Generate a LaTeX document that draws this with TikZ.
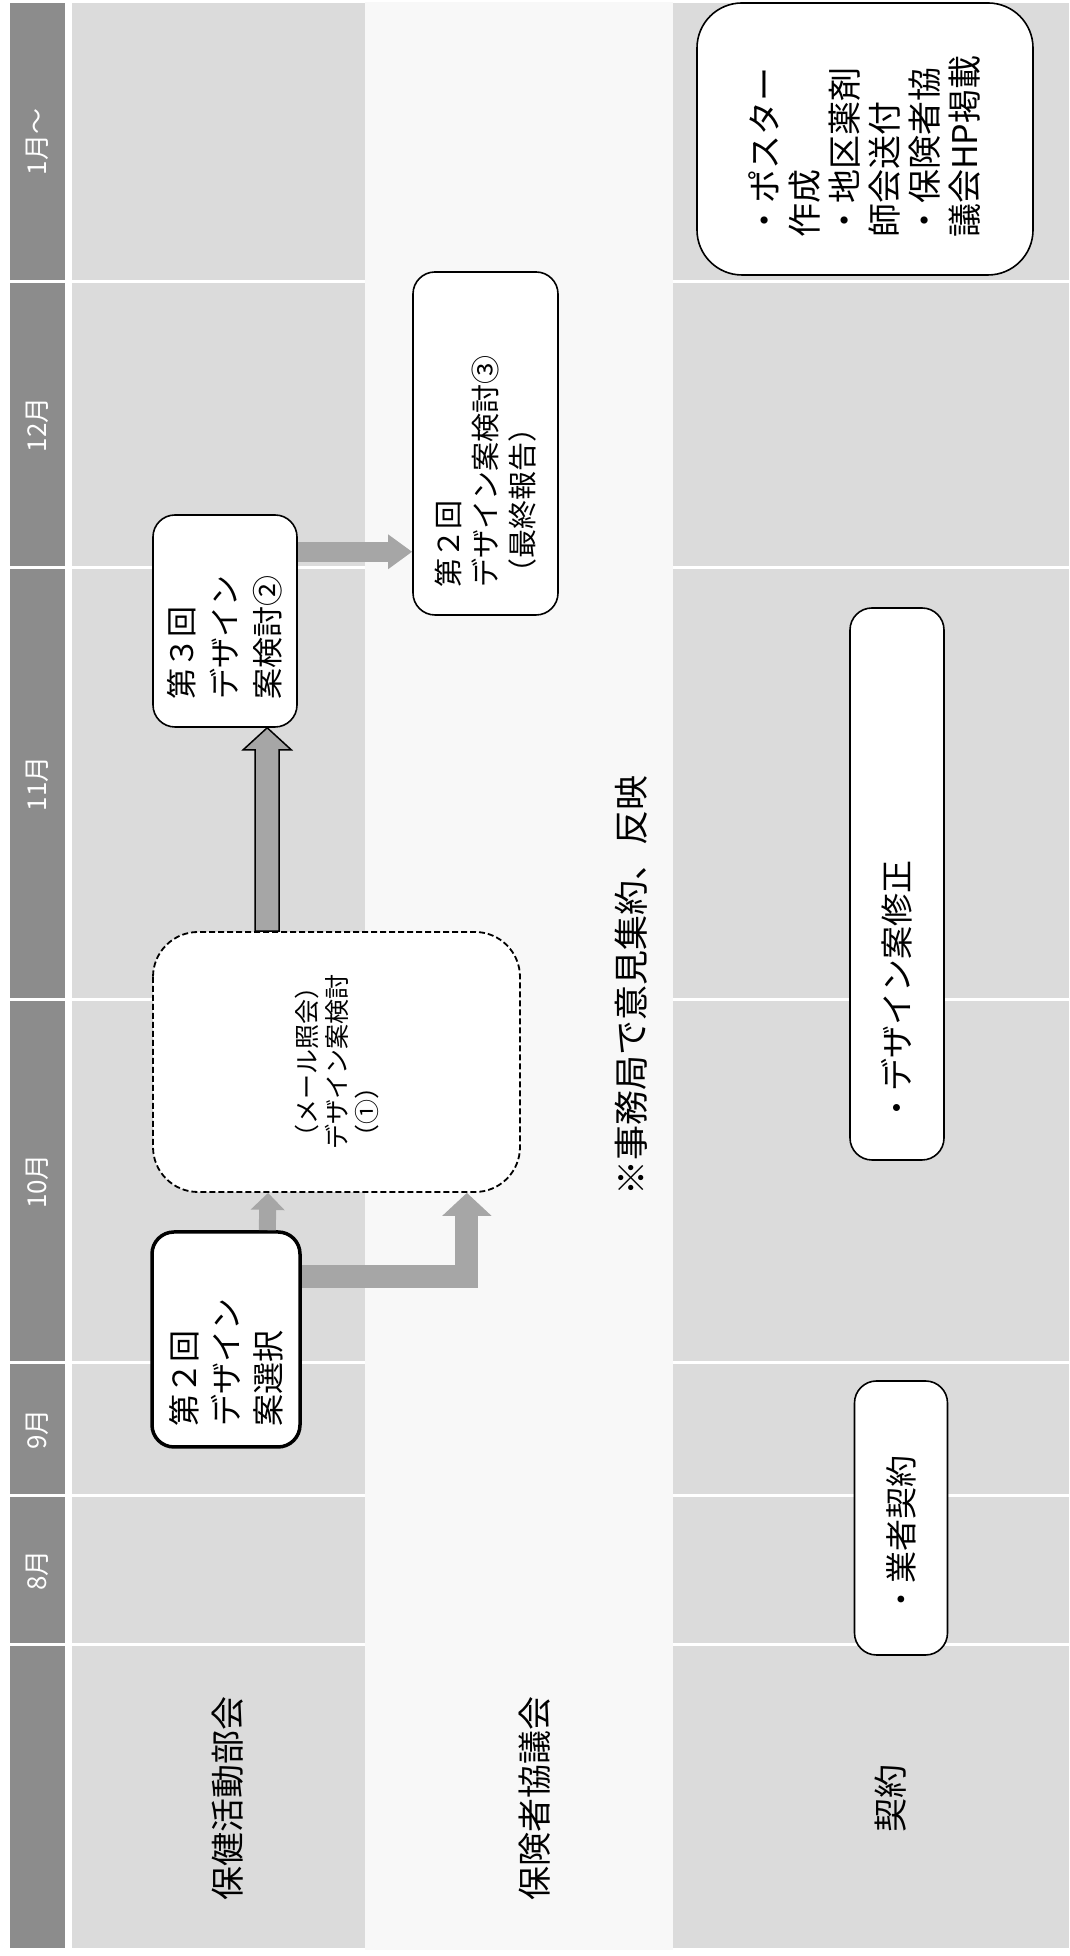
\documentclass[tikz,border=0pt]{standalone}
\usepackage{fontspec}
\setmainfont{Noto Sans CJK JP}
\usetikzlibrary{arrows.meta,calc}
\definecolor{hdr}{HTML}{8C8C8C}
\definecolor{lanedark}{HTML}{DBDBDB}
\definecolor{lanelight}{HTML}{F8F8F8}
\definecolor{arrowgray}{HTML}{A6A6A6}
\begin{document}
\begin{tikzpicture}[x=1pt,y=1pt]
\useasboundingbox (0,0) rectangle (1069,1956);
\fill[white] (0,0) rectangle (1069,1956);
\begin{scope}[rotate=90, transform shape, x=1pt, y=-1pt,
  box/.style={draw=black, line width=1.6pt, fill=white, rounded corners=22pt,
    inner ysep=0pt, align=left},
  mlabel/.style={text=white, font=\fontsize{26pt}{30pt}\selectfont, inner sep=0pt},
  lanelabel/.style={font=\fontsize{34pt}{40pt}\selectfont, inner sep=0pt},
  garrow/.style={draw=arrowgray, line join=miter}]
% header and lanes
\foreach \a/\b in {6/311,311/460,460/593,593/956,956/1388,1388/1674,1674/1954} {
  \fill[hdr] (\a+1.5,10) rectangle (\b-1.5,65);
  \fill[lanedark] (\a+1.5,72) rectangle (\b-1.5,365);
  \fill[lanedark] (\a+1.5,673) rectangle (\b-1.5,1069);
}
\fill[lanelight] (6,365) rectangle (1954,673);
% month labels
\node[mlabel] (m8) at (385.5,37.5) {8月};
\node[mlabel] (m9) at (526.5,37.5) {9月};
\node[mlabel] (m10) at (774.5,37.5) {10月};
\node[mlabel] (m11) at (1172,37.5) {11月};
\node[mlabel] (m12) at (1531,37.5) {12月};
\node[mlabel] (m1) at (1814,37.5) {1月～};
% lane labels
\node[lanelabel] (lab1) at (157,228) {保健活動部会};
\node[lanelabel] (lab2) at (157,535) {保険者協議会};
\node[lanelabel] (lab3) at (157,891) {契約};
% boxes
\node[box, line width=3.5pt, minimum width=215pt, minimum height=148pt,
  inner xsep=20pt, text width=175pt, font=\fontsize{32pt}{42pt}\selectfont]
  (sel) at (616.5,226) {第２回\\デザイン\\案選択};
\node[box, dashed, dash pattern=on 6pt off 3pt, line width=1.8pt, rounded corners=45pt,
  minimum width=260pt, minimum height=367pt, font=\fontsize{25pt}{30pt}\selectfont]
  (mail) at (894,336.5) {（メール照会）\\デザイン案検討\\（①）};
\node[box, minimum width=212pt, minimum height=144pt,
  inner xsep=27pt, text width=158pt, font=\fontsize{31pt}{43pt}\selectfont]
  (third) at (1335,225) {第３回\\デザイン\\案検討②};
\node[box, minimum width=343pt, minimum height=145pt,
  inner xsep=27pt, text width=289pt, font=\fontsize{29pt}{37pt}\selectfont]
  (final) at (1512.5,485.5) {第２回\\デザイン案検討③\\（最終報告）};
\node[inner sep=0pt, font=\fontsize{35pt}{40pt}\selectfont]
  (note) at (970,631) {※事務局で意見集約、反映};
\node[box, minimum width=552pt, minimum height=94pt,
  inner xsep=35pt, text width=482pt, font=\fontsize{33pt}{40pt}\selectfont]
  (shusei) at (1072,897) {・デザイン案修正};
\node[box, minimum width=274pt, minimum height=93pt,
  inner xsep=39pt, text width=196pt, font=\fontsize{32pt}{40pt}\selectfont]
  (gyosha) at (438,901) {・業者契約};
\node[box, rounded corners=45pt, minimum width=272pt, minimum height=336pt,
  inner xsep=37pt, text width=198pt, font=\fontsize{34pt}{40pt}\selectfont]
  (poster) at (1817,865) {・ポスター\\作成\\・地区薬剤\\師会送付\\・保険者協\\議会HP掲載};
% arrows
\draw[garrow, line width=17pt, -{Triangle[width=33pt 0 0, length=17pt 0 0]}]
  ($(sel.north east)+(0,117)$) -- ($(mail.north west)+(0,116)$);
\draw[garrow, line width=23pt, -{Triangle[width=48pt 0 0, length=23pt 0 0]}]
  ($(sel.south west)+(172,0)$) |- ($(mail.south west)+(0,-54)$);
\coordinate (c0) at ($(mail.north east)+(0,115)$);
\coordinate (c1) at ($(third.north west)+(0,115)$);
\draw[fill=arrowgray, draw=black, line width=1.5pt, line join=miter]
  ($(c0)+(0,-12)$) -- ($(c1)+(-22,-12)$) -- ($(c1)+(-22,-24)$) -- (c1)
  -- ($(c1)+(-22,24)$) -- ($(c1)+(-22,12)$) -- ($(c0)+(0,12)$) -- cycle;
\draw[garrow, line width=20pt, -{Triangle[width=33pt 0 0, length=24pt 0 0]}]
  ($(third.south west)+(176,0)$) -- ($(final.north west)+(64,0)$);
\end{scope}
\end{tikzpicture}
\end{document}
